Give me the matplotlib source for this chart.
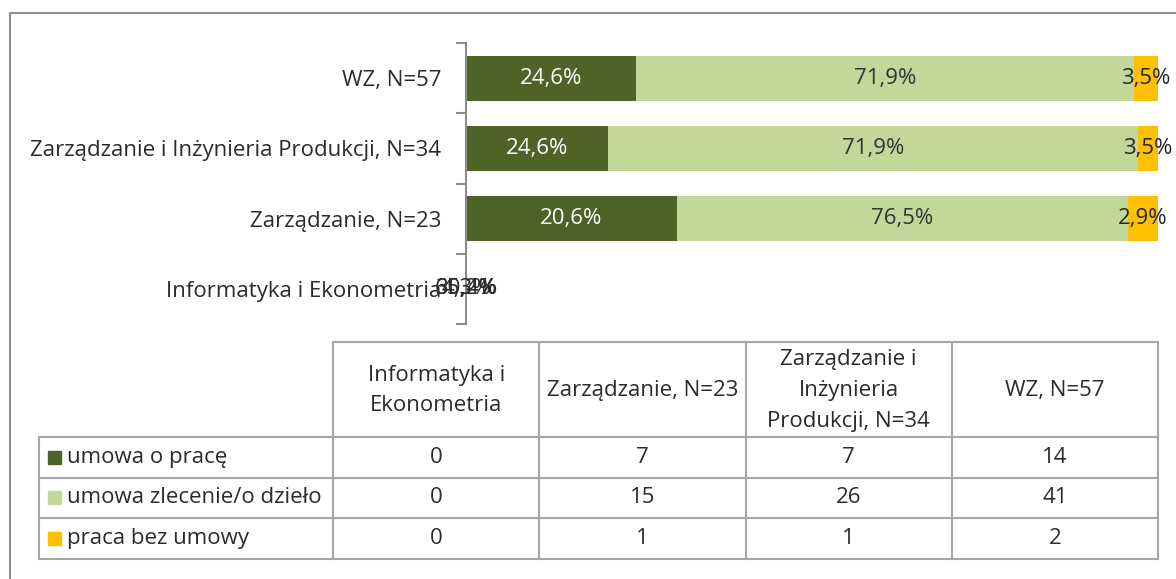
import matplotlib
matplotlib.use('Agg')
import matplotlib.pyplot as plt
import numpy as np
from matplotlib.patches import Rectangle

plt.rcParams['font.family'] = ['Open Sans', 'DejaVu Sans']

# dane
kategorie = ['Informatyka i Ekonometria', 'Zarządzanie, N=23',
             'Zarządzanie i Inżynieria Produkcji, N=34', 'WZ, N=57']
naglowki = ['Informatyka i\nEkonometria', 'Zarządzanie, N=23',
            'Zarządzanie i\nInżynieria\nProdukcji, N=34', 'WZ, N=57']
serie = ['umowa o pracę', 'umowa zlecenie/o dzieło', 'praca bez umowy']
umowa_praca = [0, 7, 7, 14]
umowa_zlecenie = [0, 15, 26, 41]
bez_umowy = [0, 1, 1, 2]
# etykiety danych (tak jak na wykresie)
etyk_praca = ['30,4%', '20,6%', '24,6%', '24,6%']
etyk_zlecenie = ['65,2%', '76,5%', '71,9%', '71,9%']
etyk_bez = ['4,3%', '2,9%', '3,5%', '3,5%']

kolory = ['#4F6228', '#C4D79B', '#FFC000']
kolory_tekstu = ['white', '#333333', '#262626']
tekst = '#2b2b2b'
szary = '#8c8c8c'
fs = 16

W, H = 1176, 579
fig = plt.figure(figsize=(W / 100, H / 100), dpi=100)

# wykres słupkowy
x0, x1, y0, y1 = 466, 1158, 43, 324
ax = fig.add_axes([x0 / W, 1 - y1 / H, (x1 - x0) / W, (y1 - y0) / H])

dane = np.array([umowa_praca, umowa_zlecenie, bez_umowy], dtype=float)
suma = dane.sum(axis=0)
proc = np.where(suma > 0, dane / np.where(suma > 0, suma, 1) * 100, 0)
etykiety = [etyk_praca, etyk_zlecenie, etyk_bez]

y = np.arange(len(kategorie))
lewo = np.zeros(len(kategorie))
for i in range(3):
    ax.barh(y, proc[i], left=lewo, height=0.64, color=kolory[i], edgecolor='none')
    for j in range(len(kategorie)):
        ax.text(lewo[j] + proc[i][j] / 2, y[j], etykiety[i][j], ha='center', va='center',
                fontsize=fs, color=kolory_tekstu[i] if proc[i][j] > 0 else tekst)
    lewo = lewo + proc[i]

ax.set_xlim(0, 100)
ax.set_ylim(-0.5, len(kategorie) - 0.5)
for s in ['top', 'right', 'bottom']:
    ax.spines[s].set_visible(False)
ax.spines['left'].set_color(szary)
ax.spines['left'].set_linewidth(1.5)
ax.set_xticks([])
ax.set_yticks(np.arange(-0.5, len(kategorie)))
ax.set_yticklabels([])
ax.tick_params(axis='y', which='major', length=7, width=1.5, color=szary)
ax.set_yticks(y, minor=True)
ax.set_yticklabels(kategorie, minor=True, fontsize=fs, color=tekst)
ax.tick_params(axis='y', which='minor', length=0, pad=18)

# tabela danych + ramka (w pikselach)
tb = fig.add_axes([0, 0, 1, 1])
tb.set_xlim(0, W)
tb.set_ylim(H, 0)
tb.axis('off')

# ramka wykresu
tb.plot([10, 10, W + 5], [H + 5, 13, 13], color=szary, lw=1.5)

lx, cx, rx = 39, 333, 1158
ht, hb = 342, 437
wiersz = 40.5
kol = np.linspace(cx, rx, len(naglowki) + 1)
dol = hb + wiersz * len(serie)
lc = '#a6a6a6'
lw = 1.5

# linie
tb.plot([cx, rx], [ht, ht], color=lc, lw=lw)
for xk in kol:
    tb.plot([xk, xk], [ht, dol], color=lc, lw=lw)
tb.plot([lx, lx], [hb, dol], color=lc, lw=lw)
for r in range(len(serie) + 1):
    yy = hb + r * wiersz
    tb.plot([lx, rx], [yy, yy], color=lc, lw=lw)

# nagłówki
for k, n in enumerate(naglowki):
    tb.text((kol[k] + kol[k + 1]) / 2, (ht + hb) / 2 + 1, n, ha='center', va='center',
            fontsize=fs, color=tekst, linespacing=1.6)

# wiersze
wartosci = [umowa_praca, umowa_zlecenie, bez_umowy]
for r, nazwa in enumerate(serie):
    yc = hb + (r + 0.5) * wiersz
    tb.add_patch(Rectangle((48, yc - 6.5), 13, 13, color=kolory[r]))
    tb.text(67, yc, nazwa, ha='left', va='center', fontsize=fs, color=tekst)
    for k, v in enumerate(wartosci[r]):
        tb.text((kol[k] + kol[k + 1]) / 2, yc, str(v), ha='center', va='center',
                fontsize=fs, color=tekst)

plt.savefig('out.png', dpi=100)
